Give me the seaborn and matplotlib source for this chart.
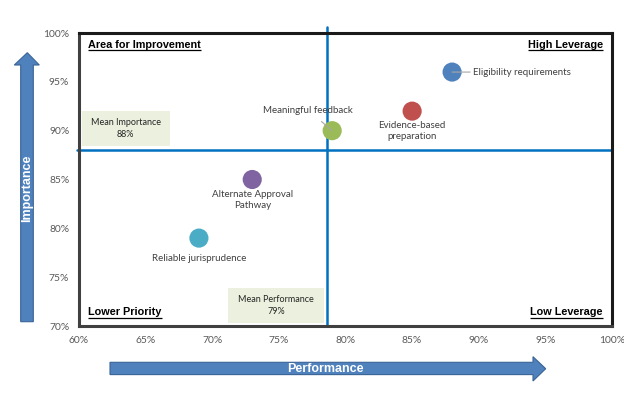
import matplotlib
matplotlib.use("Agg")
import matplotlib.pyplot as plt
from matplotlib.patches import Polygon, Rectangle
from matplotlib.ticker import FuncFormatter, MultipleLocator
import seaborn as sns
import pandas as pd

# ---- data ----
items = ["Eligibility requirements", "Evidence-based\npreparation", "Meaningful feedback",
         "Alternate Approval\nPathway", "Reliable jurisprudence"]
performance = [88, 85, 79, 73, 69]
importance = [96, 92, 90, 85, 79]
colors = ["#4F81BD", "#C0504D", "#9BBB59", "#8064A2", "#4BACC6"]
mean_performance = 78.6
mean_importance = 88.0
mean_perf_label = "Mean Performance\n79%"
mean_imp_label = "Mean Importance\n88%"
quadrants = ["Area for Improvement", "High Leverage", "Lower Priority", "Low Leverage"]
x_title = "Performance"
y_title = "Importance"

df = pd.DataFrame({"item": items, "performance": performance, "importance": importance})

sns.set_style("white")
plt.rcParams["font.family"] = ["Lato", "DejaVu Sans"]

W, H = 624, 397
fig = plt.figure(figsize=(W / 100, H / 100), dpi=100)
ax = fig.add_axes([79 / W, 1 - 326 / H, (612 - 79) / W, (326 - 33) / H])

# mean lines
ax.axvline(mean_performance, color="#0070C0", lw=1.8, zorder=1, ymax=1.02, clip_on=False)
ax.axhline(mean_importance, color="#0070C0", lw=1.8, zorder=1, xmin=-0.004, clip_on=False)

sns.scatterplot(data=df, x="performance", y="importance", hue="item",
                palette=colors, s=190, edgecolor="none", legend=False, ax=ax, zorder=3)

ax.set_xlim(60, 100)
ax.set_ylim(70, 100)
ax.xaxis.set_major_locator(MultipleLocator(5))
ax.yaxis.set_major_locator(MultipleLocator(5))
pct = FuncFormatter(lambda v, p: f"{v:.0f}%")
ax.xaxis.set_major_formatter(pct)
ax.yaxis.set_major_formatter(pct)
ax.tick_params(axis="both", labelsize=7.4, labelcolor="#595959", length=0, pad=7)
ax.set_xlabel("")
ax.set_ylabel("")
for s in ax.spines.values():
    s.set_color("#1a1a1a")
    s.set_linewidth(2.2)
for s in ["left", "bottom"]:
    ax.spines[s].set_color("#404040")

# point labels
lab_kw = dict(fontsize=7, color="#404040", zorder=4)
ax.annotate(items[0], (performance[0], importance[0]), xytext=(89.6, importance[0]),
            ha="left", va="center", arrowprops=dict(arrowstyle="-", color="#A6A6A6", lw=0.8,
                                                    shrinkA=0, shrinkB=0), **lab_kw)
ax.text(performance[1], 90.0, items[1], ha="center", va="center", linespacing=1.3, **lab_kw)
ax.annotate(items[2], (performance[2], importance[2]), xytext=(77.2, 92.1),
            ha="center", va="center", arrowprops=dict(arrowstyle="-", color="#A6A6A6", lw=0.8,
                                                      shrinkA=4, shrinkB=0), **lab_kw)
ax.text(performance[3], 82.9, items[3], ha="center", va="center", linespacing=1.3, **lab_kw)
ax.text(performance[4], 76.9, items[4], ha="center", va="center", **lab_kw)

# mean boxes
ax.add_patch(Rectangle((60.2, 88.4), 6.6, 3.6, facecolor="#EBF1DE", edgecolor="none", zorder=2))
ax.text(63.5, 90.2, mean_imp_label, ha="center", va="center", fontsize=6.5,
        color="#262626", linespacing=1.4, zorder=4)
ax.add_patch(Rectangle((71.2, 70.3), 7.2, 3.6, facecolor="#EBF1DE", edgecolor="none", zorder=2))
ax.text(74.8, 72.1, mean_perf_label, ha="center", va="center", fontsize=6.5,
        color="#262626", linespacing=1.4, zorder=4)

# quadrant labels
q_pos = [(60.7, 98.8, "left"), (99.3, 98.8, "right"), (60.7, 71.4, "left"), (99.3, 71.4, "right")]
q_texts = []
for (qx, qy, ha), q in zip(q_pos, quadrants):
    t = ax.text(qx, qy, q, ha=ha, va="center", fontsize=7.8, fontweight="bold",
                family=["Liberation Sans", "DejaVu Sans"], color="black", zorder=5)
    q_texts.append(t)
fig.canvas.draw()
r = fig.canvas.get_renderer()
inv = ax.transData.inverted()
for t in q_texts:
    bb = t.get_window_extent(r)
    (x0, y0), (x1, _) = inv.transform([(bb.x0, bb.y0 - 0.5), (bb.x1, bb.y0)])
    ax.plot([x0, x1], [y0, y0], color="black", lw=0.9, zorder=5, solid_capstyle="butt")

# big arrows (figure pixel coordinates -> inches)
def px(x, y):
    return (x / 100, (H - y) / 100)

arrow_fc = "#4F81BD"
arrow_ec = "#3A6396"
v_arrow = [px(20.7, 321.7), px(33.3, 321.7), px(33.3, 65), px(39.3, 65), px(27.3, 52.7),
           px(14.3, 65), px(20.7, 65)]
h_arrow = [px(110, 362.3), px(533, 362.3), px(533, 356.7), px(545.7, 368.7), px(533, 381),
           px(533, 374.6), px(110, 374.6)]
for pts in (v_arrow, h_arrow):
    fig.patches.append(Polygon(pts, closed=True, facecolor=arrow_fc, edgecolor=arrow_ec,
                               lw=0.8, transform=fig.dpi_scale_trans, figure=fig))
fig.text(27.3 / W, 1 - 188 / H, y_title, rotation=90, ha="center", va="center",
         color="white", fontsize=9, fontweight="bold",
         family=["Liberation Sans", "DejaVu Sans"])
fig.text(325 / W, 1 - 368.5 / H, x_title, ha="center", va="center",
         color="white", fontsize=9, fontweight="bold",
         family=["Liberation Sans", "DejaVu Sans"])

fig.savefig("out.png", dpi=100)
